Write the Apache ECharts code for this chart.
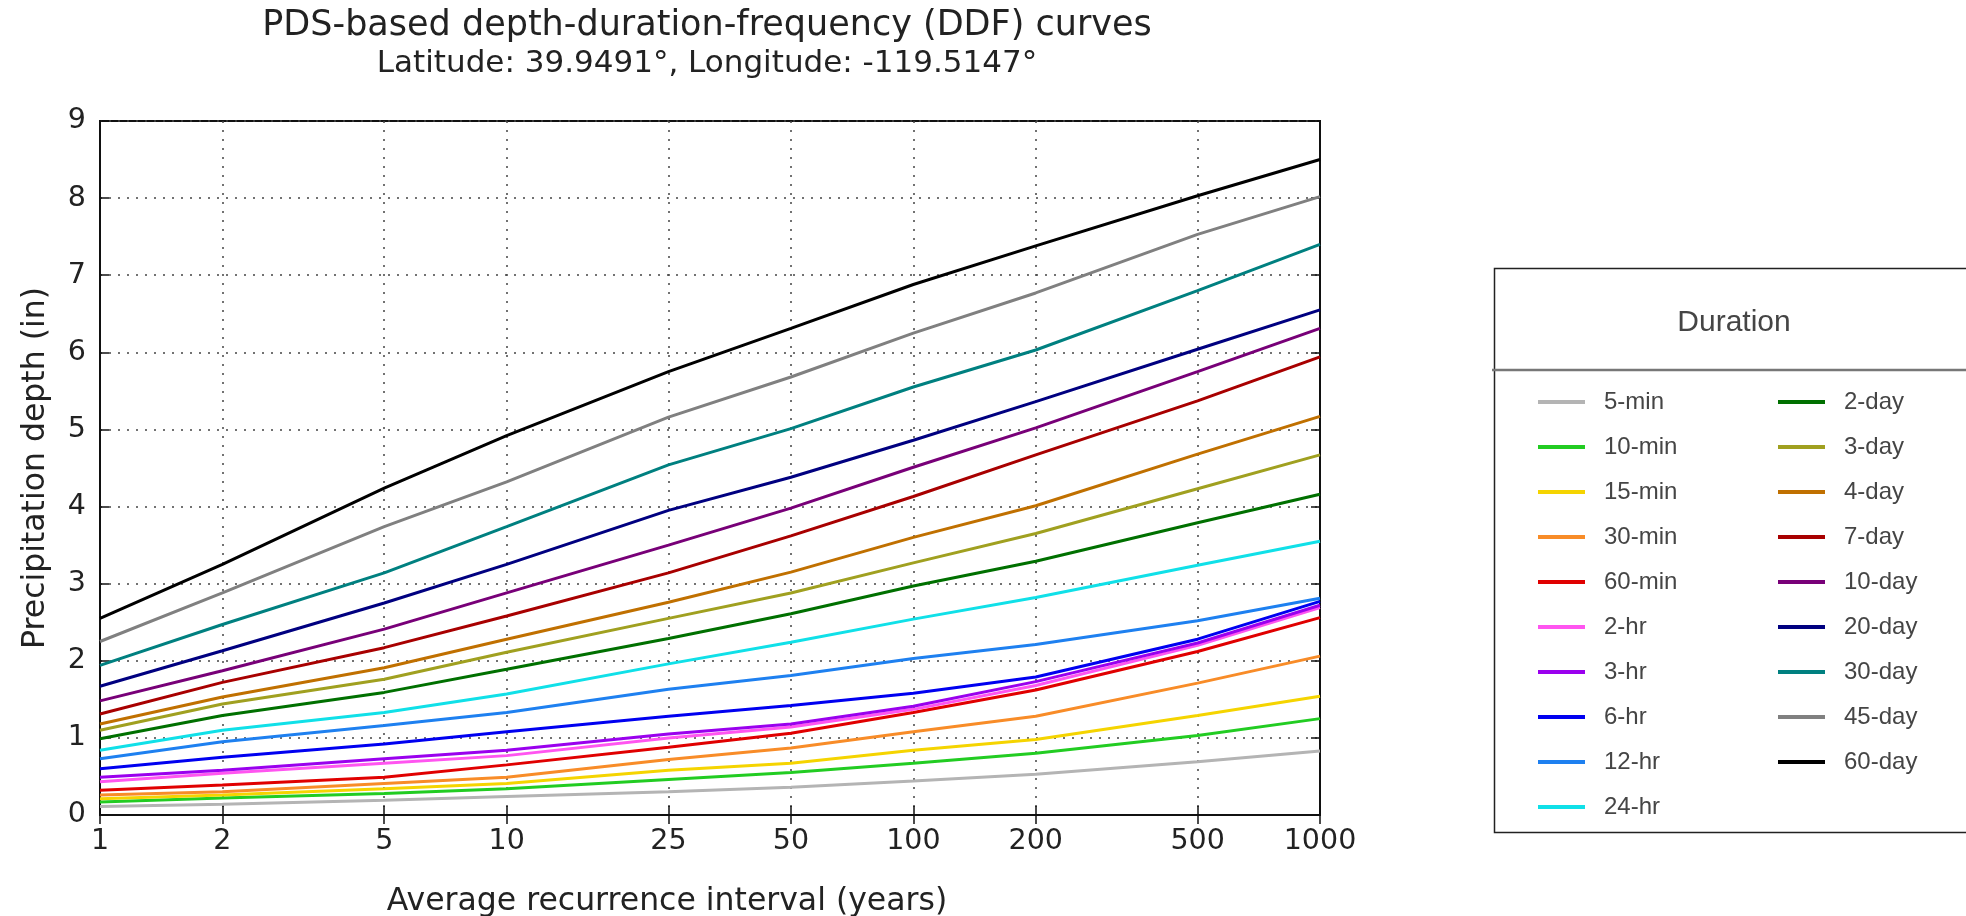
<!DOCTYPE html>
<html>
<head>
<meta charset="utf-8">
<script src="https://cdn.jsdelivr.net/npm/echarts@6/dist/echarts.min.js"></script>
<style>
  html, body { margin: 0; padding: 0; background: #fff; }
  #chart { width: 1966px; height: 916px; }
</style>
</head>
<body>
<div id="chart"></div>
<script>
// recurrence intervals (years)
const years = [1, 2, 5, 10, 25, 50, 100, 200, 500, 1000];
const yTicks = [0, 1, 2, 3, 4, 5, 6, 7, 8, 9];

// precipitation depth (in)
const d5min  = [0.11, 0.14, 0.19, 0.24, 0.30, 0.36, 0.44, 0.53, 0.69, 0.83];
const d10min = [0.17, 0.22, 0.28, 0.34, 0.46, 0.55, 0.67, 0.80, 1.03, 1.25];
const d15min = [0.21, 0.26, 0.34, 0.41, 0.58, 0.67, 0.84, 0.98, 1.29, 1.54];
const d30min = [0.26, 0.30, 0.41, 0.49, 0.72, 0.87, 1.08, 1.28, 1.71, 2.06];
const d60min = [0.32, 0.39, 0.49, 0.65, 0.88, 1.06, 1.33, 1.62, 2.12, 2.56];
const d2hr   = [0.43, 0.54, 0.67, 0.77, 1.00, 1.14, 1.37, 1.68, 2.20, 2.69];
const d3hr   = [0.49, 0.58, 0.73, 0.84, 1.05, 1.18, 1.41, 1.73, 2.23, 2.72];
const d6hr   = [0.60, 0.75, 0.92, 1.08, 1.28, 1.42, 1.58, 1.79, 2.28, 2.77];
const d12hr  = [0.73, 0.95, 1.16, 1.33, 1.63, 1.81, 2.03, 2.21, 2.52, 2.81];
const d24hr  = [0.84, 1.10, 1.33, 1.57, 1.96, 2.24, 2.54, 2.82, 3.24, 3.55];
const d2day  = [0.99, 1.29, 1.59, 1.89, 2.29, 2.61, 2.97, 3.29, 3.79, 4.16];
const d3day  = [1.10, 1.44, 1.76, 2.11, 2.55, 2.88, 3.27, 3.65, 4.23, 4.67];
const d4day  = [1.18, 1.53, 1.91, 2.28, 2.76, 3.15, 3.60, 4.01, 4.68, 5.17];
const d7day  = [1.31, 1.72, 2.17, 2.58, 3.14, 3.62, 4.13, 4.67, 5.37, 5.94];
const d10day = [1.48, 1.87, 2.41, 2.88, 3.50, 3.98, 4.51, 5.02, 5.75, 6.31];
const d20day = [1.67, 2.13, 2.75, 3.25, 3.95, 4.38, 4.86, 5.36, 6.04, 6.55];
const d30day = [1.94, 2.47, 3.14, 3.74, 4.54, 5.01, 5.55, 6.03, 6.80, 7.40];
const d45day = [2.25, 2.88, 3.74, 4.32, 5.16, 5.68, 6.25, 6.77, 7.53, 8.02];
const d60day = [2.55, 3.25, 4.24, 4.92, 5.75, 6.31, 6.88, 7.38, 8.03, 8.50];

const durations = [
    ['5-min', d5min, '#b4b4b4'],
    ['10-min', d10min, '#22cc22'],
    ['15-min', d15min, '#f5d400'],
    ['30-min', d30min, '#f88c28'],
    ['60-min', d60min, '#e00000'],
    ['2-hr', d2hr, '#ff55f0'],
    ['3-hr', d3hr, '#9a00ee'],
    ['6-hr', d6hr, '#0000f0'],
    ['12-hr', d12hr, '#1e80f0'],
    ['24-hr', d24hr, '#10e0e8'],
    ['2-day', d2day, '#007000'],
    ['3-day', d3day, '#a0a020'],
    ['4-day', d4day, '#c07000'],
    ['7-day', d7day, '#a80000'],
    ['10-day', d10day, '#780078'],
    ['20-day', d20day, '#000080'],
    ['30-day', d30day, '#008080'],
    ['45-day', d45day, '#808080'],
    ['60-day', d60day, '#000000']
];

const mplFont = 'DejaVu Sans';
const legFont = 'Liberation Sans, Arial';

let chart = echarts.init(document.getElementById('chart'));

let series = durations.map((item) => {
    return {
        name: item[0],
        type: 'line',
        symbol: 'none',
        color: item[2],
        lineStyle: { width: 3, color: item[2] },
        data: years.map((y, i) => [y, item[1][i]])
    };
});

let legendBase = {
    orient: 'vertical',
    top: 390,
    padding: 0,
    itemWidth: 47,
    itemHeight: 4,
    itemGap: 21,
    icon: 'rect',
    selectedMode: false,
    textStyle: { fontFamily: legFont, fontSize: 24, color: '#454545', lineHeight: 24, padding: [0, 0, 0, 14] }
};

let tickStyle = { show: true, inside: true, length: 9, lineStyle: { color: '#111', width: 1.5 } };

let option = {
    animation: false,
    backgroundColor: '#fff',
    title: [
        {
            text: 'PDS-based depth-duration-frequency (DDF) curves',
            left: 702, top: 3, textAlign: 'center',
            textStyle: { fontFamily: mplFont, fontSize: 35, fontWeight: 'normal', color: '#222' }
        },
        {
            text: 'Latitude: 39.9491°, Longitude: -119.5147°',
            left: 702, top: 43, textAlign: 'center',
            textStyle: { fontFamily: mplFont, fontSize: 31, fontWeight: 'normal', color: '#222' }
        }
    ],
    grid: {
        left: 100, top: 121, width: 1220, height: 694,
        outerBoundsMode: 'none', containLabel: false,
        show: true, borderColor: '#111', borderWidth: 2, backgroundColor: 'transparent'
    },
    legend: [
        Object.assign({}, legendBase, { left: 1538, data: durations.slice(0, 10).map(d => d[0]) }),
        Object.assign({}, legendBase, { left: 1778, data: durations.slice(10).map(d => d[0]) })
    ],
    xAxis: [
        {
            type: 'log', logBase: 10, min: 1, max: 1000,
            name: 'Average recurrence interval (years)',
            nameLocation: 'middle', nameGap: 71,
            nameTextStyle: { fontFamily: mplFont, fontSize: 31.5, color: '#222', padding: [0, 86, 0, 0] },
            axisLine: { show: true, lineStyle: { color: '#111', width: 2 } },
            axisTick: Object.assign({ customValues: years }, tickStyle),
            minorTick: { show: false },
            axisLabel: {
                customValues: years, margin: 12, fontFamily: mplFont, fontSize: 28.5, color: '#222',
                formatter: (v) => String(v)
            },
            splitLine: { show: true, lineStyle: { color: '#444', type: [2, 7], width: 1.5 } },
            minorSplitLine: { show: false }
        },
        {
            type: 'log', logBase: 10, min: 1, max: 1000, position: 'top',
            axisLine: { show: true, lineStyle: { color: '#111', width: 2 } },
            axisTick: Object.assign({ customValues: years }, tickStyle),
            axisLabel: { show: false },
            splitLine: { show: false }
        }
    ],
    yAxis: [
        {
            type: 'value', min: yTicks[0], max: yTicks[yTicks.length - 1], interval: 1,
            name: 'Precipitation depth (in)',
            nameLocation: 'middle', nameGap: 48,
            nameTextStyle: { fontFamily: mplFont, fontSize: 31.5, color: '#222' },
            axisLine: { show: true, lineStyle: { color: '#111', width: 2 } },
            axisTick: tickStyle,
            axisLabel: { margin: 14, fontFamily: mplFont, fontSize: 28.5, color: '#222' },
            splitLine: { show: true, lineStyle: { color: '#444', type: [2, 7], width: 1.5 } }
        },
        {
            type: 'value', min: 0, max: 9, interval: 1, position: 'right',
            axisLine: { show: true, lineStyle: { color: '#111', width: 2 } },
            axisTick: tickStyle,
            axisLabel: { show: false },
            splitLine: { show: false }
        }
    ],
    graphic: [
        {
            type: 'rect', left: 1492, top: 266, silent: true,
            shape: { width: 600, height: 564 },
            style: { fill: 'none', stroke: '#222', lineWidth: 1.5 }
        },
        {
            type: 'line', silent: true,
            shape: { x1: 1492, y1: 370, x2: 1966, y2: 370 },
            style: { stroke: '#777', lineWidth: 2.5 }
        },
        {
            type: 'text', x: 1734, y: 323, silent: true,
            style: { text: 'Duration', fontFamily: legFont, fontSize: 30, fill: '#454545', align: 'center', verticalAlign: 'middle' }
        }
    ],
    series: series
};

chart.setOption(option);
</script>
</body>
</html>
